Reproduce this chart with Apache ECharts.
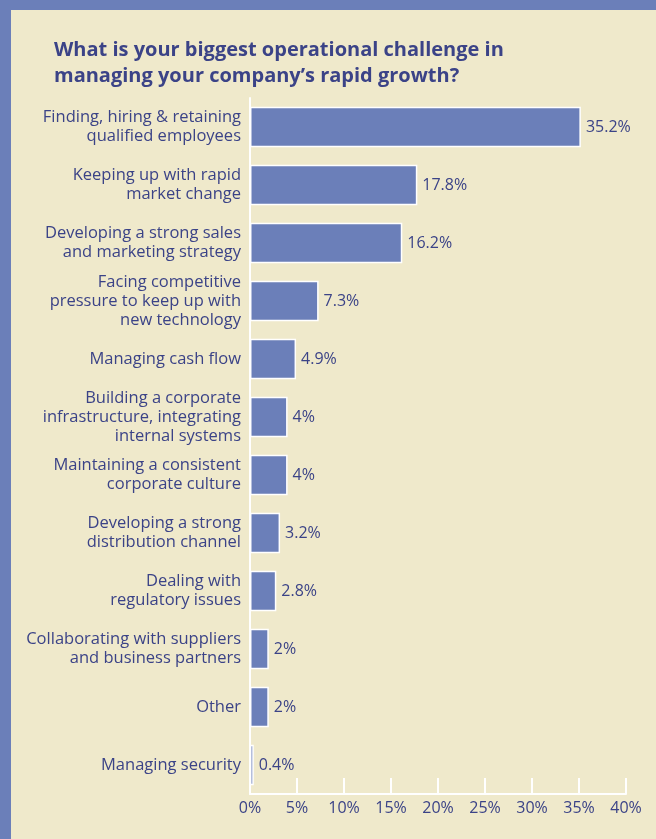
<!DOCTYPE html>
<html>
<head>
<meta charset="utf-8">
<script src="https://cdn.jsdelivr.net/npm/echarts@6/dist/echarts.min.js"></script>
<style>
  html, body { margin: 0; padding: 0; background: #efe9cb; }
  #chart { width: 656px; height: 839px; }
</style>
</head>
<body>
<div id="chart"></div>
<script>
// Survey responses: biggest operational challenge in managing rapid growth
const categories = [
  'Finding, hiring & retaining\nqualified employees',
  'Keeping up with rapid\nmarket change',
  'Developing a strong sales\nand marketing strategy',
  'Facing competitive\npressure to keep up with\nnew technology',
  'Managing cash flow',
  'Building a corporate\ninfrastructure, integrating\ninternal systems',
  'Maintaining a consistent\ncorporate culture',
  'Developing a strong\ndistribution channel',
  'Dealing with\nregulatory issues',
  'Collaborating with suppliers\nand business partners',
  'Other',
  'Managing security'
];
const shares = [35.2, 17.8, 16.2, 7.3, 4.9, 4, 4, 3.2, 2.8, 2, 2, 0.4];

const NAVY = '#3b4387';
const BAR = '#6b7fb9';
const FONT = '"Open Sans", "Noto Sans", sans-serif';

const chart = echarts.init(document.getElementById('chart'), null, { renderer: 'canvas' });
chart.setOption({
  backgroundColor: '#efe9cb',
  animation: false,
  graphic: [
    { type: 'rect', left: 0, top: 0, shape: { width: 656, height: 10 }, style: { fill: BAR } },
    { type: 'rect', left: 0, top: 0, shape: { width: 11, height: 839 }, style: { fill: BAR } }
  ],
  title: {
    text: 'What is your biggest operational challenge in\nmanaging your company\u2019s rapid growth?',
    left: 54,
    top: 37,
    padding: 0,
    textStyle: {
      fontFamily: FONT,
      fontWeight: 'bold',
      fontSize: 20,
      lineHeight: 26,
      color: NAVY
    }
  },
  grid: { left: 250, right: 30, top: 98, bottom: 45, containLabel: false },
  xAxis: {
    type: 'value',
    min: 0,
    max: 40,
    interval: 5,
    axisLine: { show: true, lineStyle: { color: '#ffffff', width: 2 } },
    axisTick: { show: true, inside: true, length: 16, lineStyle: { color: '#ffffff', width: 2 } },
    splitLine: { show: false },
    axisLabel: {
      formatter: '{value}%',
      color: NAVY,
      fontFamily: FONT,
      fontSize: 16,
      margin: 6
    }
  },
  yAxis: {
    type: 'category',
    data: categories,
    inverse: true,
    axisLine: { show: true, lineStyle: { color: '#ffffff', width: 2 } },
    axisTick: { show: false },
    axisLabel: {
      color: NAVY,
      fontFamily: FONT,
      fontSize: 16.5,
      lineHeight: 19,
      margin: 9,
      align: 'right'
    }
  },
  series: [{
    type: 'bar',
    data: shares,
    barCategoryGap: '30%',
    itemStyle: { color: BAR, borderColor: '#ffffff', borderWidth: 1.5 },
    label: {
      show: true,
      position: 'right',
      distance: 5,
      formatter: '{c}%',
      color: NAVY,
      fontFamily: FONT,
      fontSize: 16
    }
  }]
});
</script>
</body>
</html>
